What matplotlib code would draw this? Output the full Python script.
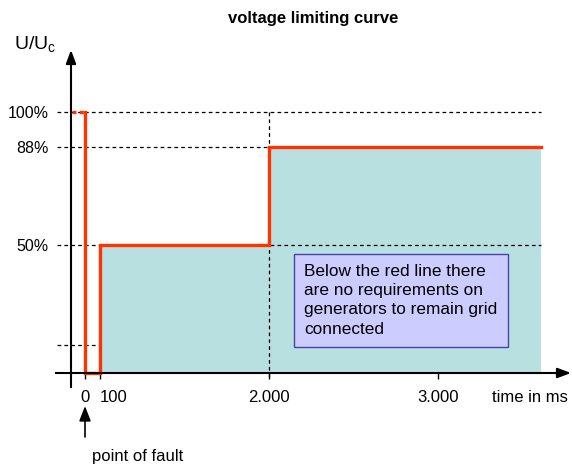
import numpy as np
import matplotlib
matplotlib.use("Agg")
import matplotlib.pyplot as plt

plt.rcParams['font.family'] = ['Liberation Sans', 'DejaVu Sans']

# data (time in ms, voltage in % of U_c)
curve_t = [0, 0, 100, 100, 2000, 2000, 3610]
curve_u = [100, 0, 0, 50, 50, 88, 88]
fill_t = [100, 2000, 3610]
fill_u = [50, 88, 88]
pre_t = [-90, 0]
pre_u = [100, 100]
xtick_vals = [0, 100, 2000, 3000]
xtick_labels = ['0', '', '2.000', '3.000']
ytick_vals = [50, 88, 100]
ytick_labels = ['50%', '88%', '100%']
low_level = 11

# schematic (piecewise linear) axes, pixel offsets from origin
T_ANCH = [-1000, 0, 100, 2000, 3000, 6000]
T_PX = [-150, 0, 15, 184, 353, 860]
U_ANCH = [-100, 0, 50, 88, 100, 300]
U_PX = [-256, 0, 128, 226, 261, 781]


def fx(t):
    return np.interp(t, T_ANCH, T_PX)


def ix(p):
    return np.interp(p, T_PX, T_ANCH)


def fy(u):
    return np.interp(u, U_ANCH, U_PX)


def iy(p):
    return np.interp(p, U_PX, U_ANCH)


W, H = 572, 468
X0, Y0 = 85, 373  # origin in image pixels

fig = plt.figure(figsize=(W / 100, H / 100), dpi=100)
ax = fig.add_axes([0, 0, 1, 1])
ax.set_xscale('function', functions=(fx, ix))
ax.set_yscale('function', functions=(fy, iy))
ax.set_xlim(ix(0 - X0), ix(W - X0))
ax.set_ylim(iy(Y0 - H), iy(Y0 - 0))
ax.patch.set_visible(False)

red = '#ff3300'
teal = '#b9e0e1'

# fill and curve
ax.fill_between(fill_t, 0, fill_u, step='post', color=teal, lw=0, zorder=1)
ax.plot(curve_t, curve_u, color=red, lw=2.4, zorder=4, solid_joinstyle='miter')
ax.plot(pre_t, pre_u, color=red, lw=2.4, ls=(0, (1.2, 1.0)), zorder=4)

# dashed helper lines
dash = dict(color='black', lw=0.9, ls=(0, (3, 2.5)), zorder=3)
t_left = ix(57 - X0)
t_right = ix(541 - X0)
ax.plot([t_left, t_right], [100, 100], **dash)
ax.plot([t_left, 2000], [88, 88], **dash)
ax.plot([t_left, t_right], [50, 50], **dash)
ax.plot([t_left, 100], [low_level, low_level], **dash)
ax.plot([2000, 2000], [100, iy(Y0 - 378)], **dash)

# axes with arrows
t_yaxis = ix(71 - X0)
for s in ['top', 'right']:
    ax.spines[s].set_visible(False)
ax.spines['left'].set_position(('data', t_yaxis))
ax.spines['bottom'].set_position(('data', 0))
ax.spines['left'].set_bounds(iy(Y0 - 387), iy(Y0 - 62))
ax.spines['bottom'].set_bounds(ix(56 - X0), ix(560 - X0))
ax.spines['left'].set_linewidth(1.5)
ax.spines['bottom'].set_linewidth(1.5)
ax.spines['left'].set_zorder(5)
ax.spines['bottom'].set_zorder(5)
arr = dict(arrowstyle='-|>,head_length=0.8,head_width=0.3', color='black', lw=1.5,
           shrinkA=0, shrinkB=0)
ax.annotate('', xy=(t_yaxis, iy(Y0 - 50)), xytext=(t_yaxis, iy(Y0 - 64)), arrowprops=arr)
ax.annotate('', xy=(ix(571 - X0), 0), xytext=(ix(558 - X0), 0), arrowprops=arr)

ax.set_xticks(xtick_vals, xtick_labels, fontsize=12)
ax.tick_params(axis='x', direction='out', length=4, width=1, pad=8)
ax.text(100, iy(Y0 - 397), '100', fontsize=12, ha='left', va='center')
ax.set_yticks(ytick_vals, ytick_labels, fontsize=11.5)
ax.tick_params(axis='y', length=0, pad=16)
ax.minorticks_off()

# texts
fig.text(313 / W, 1 - 18 / H, 'voltage limiting curve', fontsize=12, fontweight='bold',
         ha='center', va='center')
fig.text(14 / W, 1 - 45 / H, r'U/U$_\mathregular{c}$', fontsize=14, ha='left', va='center')
fig.text(492 / W, 1 - 397 / H, 'time in ms', fontsize=12, ha='left', va='center')
fig.text(92 / W, 1 - 457 / H, 'point of fault', fontsize=12, ha='left', va='center')
ax.annotate('', xy=(0, H - 406), xycoords=('data', 'figure pixels'),
            xytext=(0, H - 437), textcoords=('data', 'figure pixels'),
            arrowprops=dict(arrowstyle='-|>,head_length=0.9,head_width=0.35', color='black',
                            lw=1.2, shrinkA=0, shrinkB=0))

fig.text(304 / W, 1 - 264 / H,
         'Below the red line there\nare no requirements on\ngenerators to remain grid\nconnected',
         fontsize=12.4, ha='left', va='top', linespacing=1.35, zorder=6,
         bbox=dict(boxstyle='square,pad=0.6', fc='#ccccff', ec='#4444aa', lw=1))

fig.savefig('out.png', dpi=100)
